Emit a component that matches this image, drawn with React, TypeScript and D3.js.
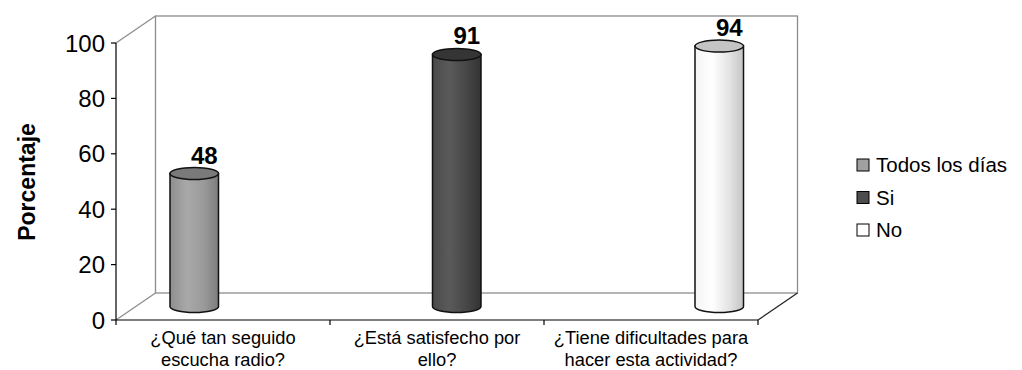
import React from "react";
import * as d3 from "d3";

const categories = [
  ["¿Qué tan seguido", "escucha radio?"],
  ["¿Está satisfecho por", "ello?"],
  ["¿Tiene dificultades para", "hacer esta actividad?"],
];
const categoryKeys = ["radio", "satisfecho", "dificultades"];
const seriesNames = ["Todos los días", "Si", "No"];
const todosLosDias = [48, null, null];
const si = [null, 91, null];
const no = [null, null, 94];
const seriesValues = [todosLosDias, si, no];
const yTicks = [0, 20, 40, 60, 80, 100];

const sideColors = [
  ["#8e8e8e", "#a9a9a9", "#9a9a9a", "#7c7c7c"],
  ["#4a4a4a", "#5a5a5a", "#474747", "#333333"],
  ["#f4f4f4", "#ffffff", "#e4e4e4", "#c4c4c4"],
];
const topColors = ["#7a7a7a", "#353535", "#c4c4c4"];
const legendColors = ["#a0a0a0", "#4d4d4d", "#ffffff"];

export default function App() {
  const W = 1022, H = 370;
  const left = 116, right = 758, bottom = 320, top = 43;
  const dx = 39.5, dy = -27;
  const font = "Arial, 'Liberation Sans', sans-serif";

  const y = d3.scaleLinear().domain([0, 100]).range([bottom, top]);
  const x0 = d3.scaleBand<string>().domain(categoryKeys).range([left, right]).padding(0);
  const x1 = d3.scaleBand<string>().domain(seriesNames).range([0, x0.bandwidth()]).paddingInner(0).paddingOuter(0.706);

  const ry = 6;
  const bars: any[] = [];
  seriesValues.forEach((vals, si_) => {
    vals.forEach((v, ci) => {
      if (v == null) return;
      const cx = (x0(categoryKeys[ci]) as number) + (x1(seriesNames[si_]) as number) + x1.bandwidth() / 2 + dx / 2;
      const rx = x1.bandwidth() / 2;
      const baseY = y(0) + dy / 2;
      const topY = y(v) + dy / 2;
      bars.push({ cx, rx, baseY, topY, v, s: si_ });
    });
  });

  return (
    <svg width={W} height={H} style={{ display: "block", position: "absolute", left: 0, top: 0 }}>
      <defs>
        {sideColors.map((c, i) => (
          <linearGradient key={i} id={`g${i}`} x1="0" x2="1" y1="0" y2="0">
            <stop offset="0%" stopColor={c[0]} />
            <stop offset="35%" stopColor={c[1]} />
            <stop offset="70%" stopColor={c[2]} />
            <stop offset="100%" stopColor={c[3]} />
          </linearGradient>
        ))}
      </defs>
      <rect width={W} height={H} fill="#fff" />
      <rect x={left + dx} y={top + dy} width={right - left} height={bottom - top} fill="none" stroke="#8c8c8c" strokeWidth={1.3} />
      <line x1={left} y1={top} x2={left + dx} y2={top + dy} stroke="#8c8c8c" strokeWidth={1.3} />
      <line x1={left} y1={bottom} x2={left + dx} y2={bottom + dy} stroke="#8c8c8c" strokeWidth={1.3} />
      <line x1={right} y1={bottom} x2={right + dx} y2={bottom + dy} stroke="#222" strokeWidth={1.2} />
      {bars.map((b, i) => (
        <g key={i}>
          <path
            d={`M${b.cx - b.rx},${b.topY} L${b.cx - b.rx},${b.baseY} A${b.rx},${ry} 0 0 0 ${b.cx + b.rx},${b.baseY} L${b.cx + b.rx},${b.topY} Z`}
            fill={`url(#g${b.s})`}
            stroke="#111"
            strokeWidth={1.5}
          />
          <ellipse cx={b.cx} cy={b.topY} rx={b.rx} ry={ry} fill={topColors[b.s]} stroke="#111" strokeWidth={1.5} />
          <text x={b.cx + 10} y={b.topY - ry - 4} fontFamily={font} fontWeight="bold" fontSize={24} textAnchor="middle" fill="#000">
            {b.v}
          </text>
        </g>
      ))}
      <line x1={left} y1={top} x2={left} y2={bottom} stroke="#000" strokeWidth={1.2} />
      {yTicks.map((t) => (
        <g key={t}>
          <line x1={left - 5} x2={left} y1={y(t)} y2={y(t)} stroke="#000" strokeWidth={1.2} />
          <text x={left - 11} y={y(t)} dy="0.36em" textAnchor="end" fontFamily={font} fontSize={24} fill="#000">
            {t}
          </text>
        </g>
      ))}
      <line x1={left} y1={bottom} x2={right} y2={bottom} stroke="#000" strokeWidth={1.2} />
      {[...categoryKeys.map((k) => x0(k) as number), right].map((xv, i) => (
        <line key={i} x1={xv} x2={xv} y1={bottom} y2={bottom + 5} stroke="#000" strokeWidth={1.2} />
      ))}
      {categories.map((lines, i) => (
        <text key={i} x={(x0(categoryKeys[i]) as number) + x0.bandwidth() / 2} y={bottom + 24} textAnchor="middle" fontFamily={font} fontSize={18.3} fill="#000">
          {lines.map((l, j) => (
            <tspan key={j} x={(x0(categoryKeys[i]) as number) + x0.bandwidth() / 2} dy={j === 0 ? 0 : 21.5}>
              {l}
            </tspan>
          ))}
        </text>
      ))}
      <text transform="translate(35,182) rotate(-90)" textAnchor="middle" fontFamily={font} fontWeight="bold" fontSize={23} fill="#000">
        Porcentaje
      </text>
      {seriesNames.map((n, i) => (
        <g key={n} transform={`translate(857,${165 + i * 32.5})`}>
          <rect x={0} y={-6} width={12} height={12} fill={legendColors[i]} stroke="#000" strokeWidth={1} />
          <text x={19} y={0} dy="0.36em" fontFamily={font} fontSize={20.5} fill="#000">
            {n}
          </text>
        </g>
      ))}
    </svg>
  );
}
